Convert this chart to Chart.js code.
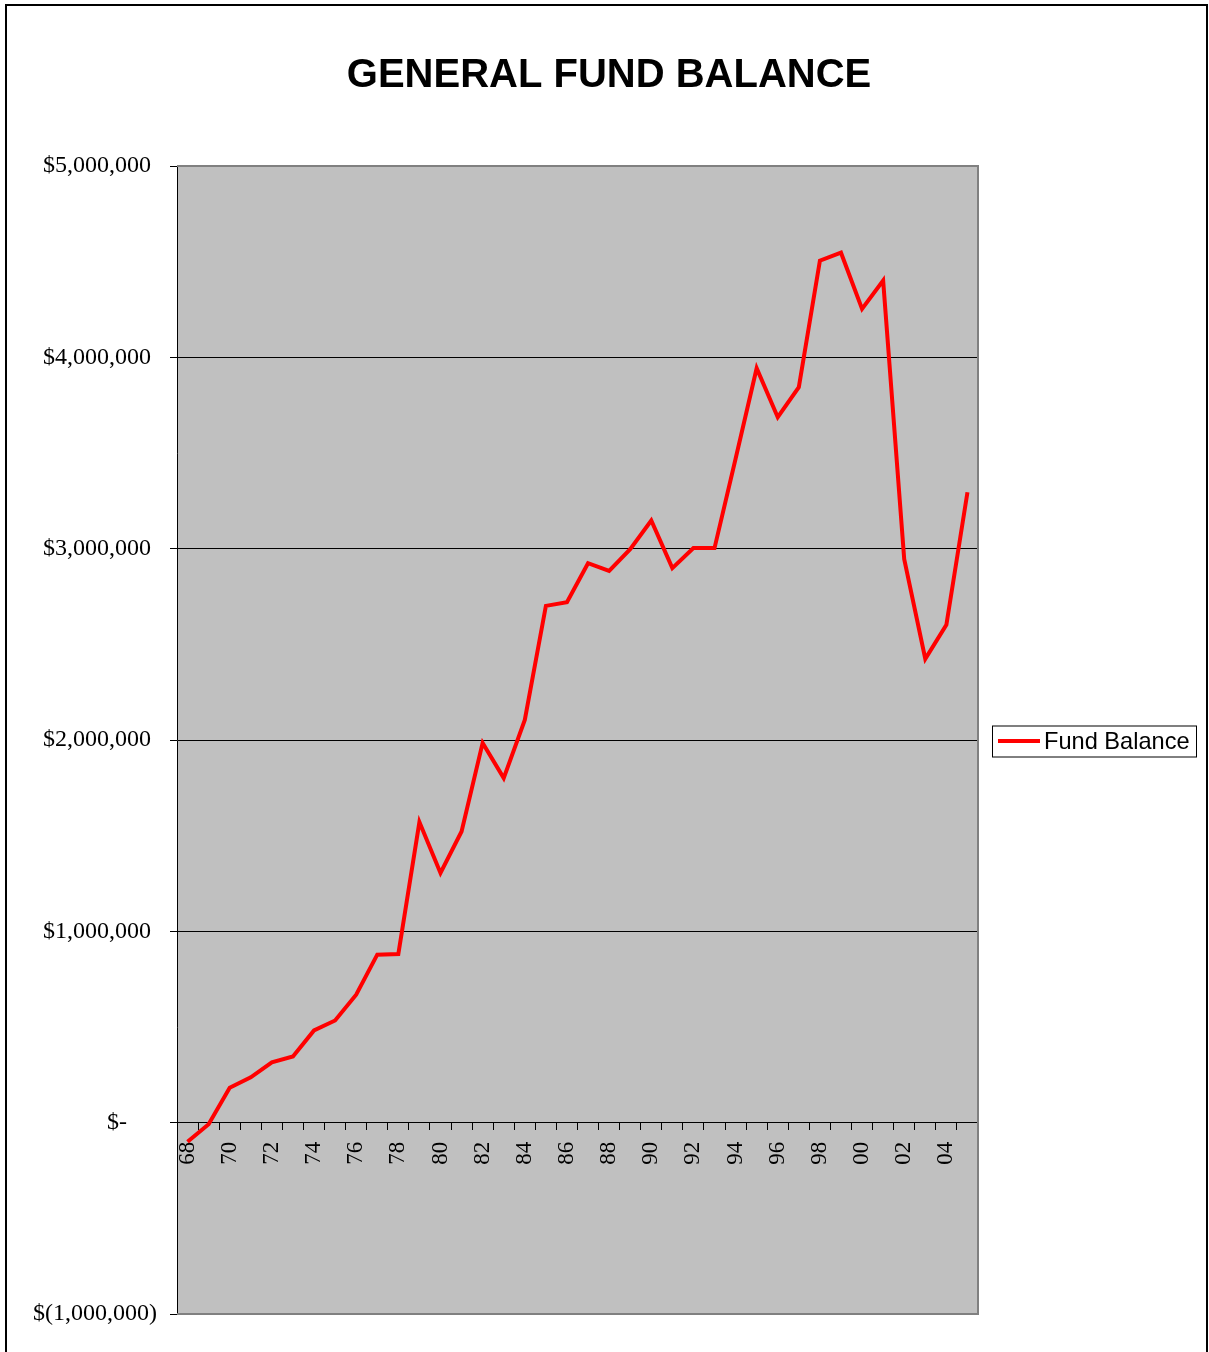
<!DOCTYPE html>
<html>
<head>
<meta charset="utf-8">
<script src="https://cdn.jsdelivr.net/npm/chart.js@4.4.0/dist/chart.umd.min.js"></script>
<style>
  html, body { margin: 0; padding: 0; background: #ffffff; }
  #wrap { position: relative; width: 1209px; height: 1352px; }
  canvas { display: block; }
</style>
</head>
<body>
<div id="wrap"><canvas id="c" width="1209" height="1352"></canvas></div>
<script>
// ---- data ----
const years = ['68','69','70','71','72','73','74','75','76','77','78','79','80','81','82','83','84','85','86','87','88','89','90','91','92','93','94','95','96','97','98','99','00','01','02','03','04','05'];
const fundBalance = [-100000, -8000, 183000, 237000, 315000, 346000, 482000, 534000, 669000, 878000, 881000, 1571000, 1305000, 1522000, 1985000, 1801000, 2105000, 2701000, 2720000, 2924000, 2884000, 2997000, 3147000, 2898000, 3003000, 3003000, 3470000, 3943000, 3687000, 3844000, 4505000, 4547000, 4253000, 4401000, 2945000, 2424000, 2602000, 3295000];
const yTickValues = [-1000000, 0, 1000000, 2000000, 3000000, 4000000, 5000000];
const yTickLabels = ['$(1,000,000)', '$-     ', '$1,000,000 ', '$2,000,000 ', '$3,000,000 ', '$4,000,000 ', '$5,000,000 '];
const seriesName = 'Fund Balance';
const chartTitle = 'GENERAL FUND BALANCE';

// ---- plugins (drawing styles only) ----
const decor = {
  id: 'decor',
  beforeDraw(chart) {
    const {ctx, chartArea: a} = chart;
    ctx.save();
    ctx.fillStyle = '#ffffff';
    ctx.fillRect(0, 0, chart.width, chart.height);
    ctx.fillStyle = '#c0c0c0';
    ctx.fillRect(a.left, a.top, a.right - a.left, a.bottom - a.top);
    ctx.restore();
  },
  beforeDatasetsDraw(chart) {
    const {ctx, chartArea: a} = chart;
    ctx.save();
    ctx.strokeStyle = '#808080';
    ctx.lineWidth = 2;
    ctx.beginPath();
    ctx.moveTo(a.left, a.top);
    ctx.lineTo(a.right, a.top);
    ctx.lineTo(a.right, a.bottom);
    ctx.lineTo(a.left, a.bottom);
    ctx.stroke();
    ctx.restore();
  },
  afterDraw(chart) {
    const {ctx, chartArea: a} = chart;
    ctx.save();
    // outer border
    ctx.strokeStyle = '#000000';
    ctx.lineWidth = 2;
    ctx.strokeRect(6, 5, 1201, 1400);
    // legend
    const cy = (a.top + a.bottom) / 2 + 1;
    const bx = 992, bw = 204, bh = 31;
    ctx.fillStyle = '#ffffff';
    ctx.fillRect(bx, cy - bh / 2, bw, bh);
    ctx.strokeStyle = '#000000';
    ctx.lineWidth = 1;
    ctx.strokeRect(bx + 0.5, cy - bh / 2 + 0.5, bw, bh);
    ctx.strokeStyle = '#ff0000';
    ctx.lineWidth = 4;
    ctx.beginPath();
    ctx.moveTo(bx + 6, cy);
    ctx.lineTo(bx + 48, cy);
    ctx.stroke();
    ctx.fillStyle = '#000000';
    ctx.font = '23.6px "Liberation Sans", Arial, sans-serif';
    ctx.textBaseline = 'middle';
    ctx.textAlign = 'left';
    ctx.fillText(chart.data.datasets[0].label, bx + 52, cy + 1);
    ctx.restore();
  }
};

new Chart(document.getElementById('c'), {
  type: 'line',
  data: {
    labels: years,
    datasets: [{
      label: seriesName,
      data: fundBalance,
      borderColor: '#ff0000',
      backgroundColor: '#ff0000',
      borderWidth: 4,
      pointRadius: 0,
      pointHoverRadius: 0,
      tension: 0,
      fill: false,
      borderJoinStyle: 'miter'
    }]
  },
  options: {
    responsive: false,
    animation: false,
    events: [],
    layout: { padding: { left: 9, right: 0, top: 0, bottom: 38 } },
    plugins: {
      legend: { display: false },
      tooltip: { enabled: false },
      title: {
        display: true,
        text: chartTitle,
        color: '#000000',
        font: { family: '"Liberation Sans", Arial, sans-serif', size: 40, weight: 'bold', lineHeight: 1.2 },
        padding: { top: 52, bottom: 66 }
      }
    },
    scales: {
      x: {
        type: 'category',
        position: { y: 0 },
        offset: true,
        afterFit(s) { s.height = 0; },
        grid: {
          display: true,
          offset: true,
          drawOnChartArea: false,
          drawTicks: true,
          tickLength: 7,
          tickColor: '#000000',
          tickWidth: 1
        },
        border: { display: true, color: '#000000', width: 1 },
        ticks: {
          autoSkip: false,
          minRotation: 90,
          maxRotation: 90,
          padding: 12,
          color: '#000000',
          font: { family: '"Liberation Serif", "Times New Roman", serif', size: 23 },
          callback(val, idx) { return idx % 2 === 0 ? years[idx] : ''; }
        }
      },
      y: {
        type: 'linear',
        position: 'left',
        min: -1000000,
        max: 5000000,
        afterFit(s) { s.width = 168; },
        afterBuildTicks(s) { s.ticks = yTickValues.map(v => ({ value: v })); },
        grid: {
          color(ctx) {
            const v = ctx.tick && ctx.tick.value;
            if (v === 5000000 || v === -1000000) return 'rgba(0,0,0,0)';
            return '#000000';
          },
          lineWidth: 1,
          drawTicks: true,
          tickLength: 7,
          tickColor: '#000000'
        },
        border: { display: true, color: '#000000', width: 1 },
        ticks: {
          padding: 13,
          color: '#000000',
          font: { family: '"Liberation Serif", "Times New Roman", serif', size: 24 },
          callback(val) {
            const i = yTickValues.indexOf(val);
            return i >= 0 ? yTickLabels[i] : '';
          }
        }
      },
      yRight: {
        type: 'linear',
        position: 'right',
        display: true,
        afterFit(s) { s.width = 231; },
        grid: { display: false, drawTicks: false },
        border: { display: false },
        ticks: { display: false }
      }
    }
  },
  plugins: [decor]
});
</script>
</body>
</html>
